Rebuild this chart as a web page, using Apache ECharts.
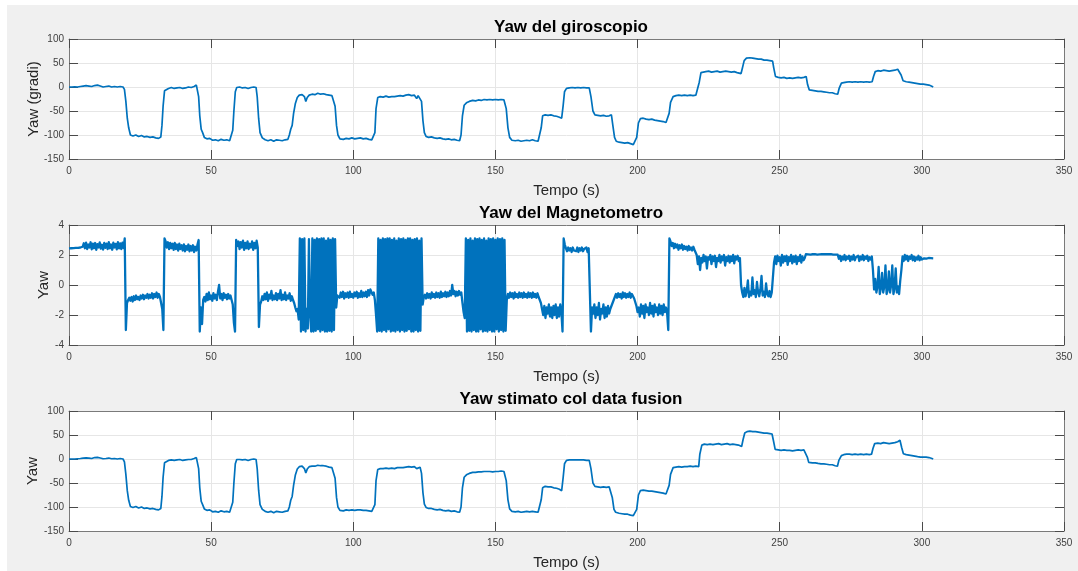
<!DOCTYPE html>
<html>
<head>
<meta charset="utf-8">
<script src="https://cdn.jsdelivr.net/npm/echarts@6/dist/echarts.min.js"></script>
<style>
  html, body { margin: 0; background: #fff; }
  #chart { width: 1078px; height: 571px; }
</style>
</head>
<body>
<div id="chart"></div>
<script>
// titoli e etichette dei tre grafici
const titoli = ["Yaw del giroscopio", "Yaw del Magnetometro", "Yaw stimato col data fusion"];
const etichetteY = ["Yaw (gradi)", "Yaw", "Yaw"];
const etichettaX = "Tempo (s)";
const assiX = { min: 0, max: 350, interval: 50 };
const assiYGradi = { min: -150, max: 100, interval: 50 };
const assiYMag = { min: -4, max: 4, interval: 2 };

// yaw del giroscopio [tempo s, gradi]
const giroscopio = [
  [0,0],[1,0],[2,0.5],[3,0],[4,1],[5,2],[6,3],[7,2],[8,1],[9,3],[10,4],[11,2],[12,0],[13,1],[14,2],[15,0],[16,1],[17,0],[18,1],[19,0],
  [19.5,-5],[20,-30],[20.5,-65],[21,-85],[21.6,-100],[22.5,-102],[23.5,-100],[24.5,-103],[25.5,-101],[26.5,-104],[27.5,-103],[28.5,-105],[29.5,-104],[30.5,-106],[31.5,-107],[31.9,-110],
  [32.3,-104],[32.7,-80],[33.1,-40],[33.6,-8],[34.2,-4],[35,-3],[36,-1],[37,-3],[38,-2],[39,-1],[40,-3],[41,-2],[42,0],[43,-1],[44,1],[44.8,4],[45.2,5],
  [45.6,-20],[46,-60],[46.5,-88],[47,-95],[47.6,-105],[48.5,-108],[49.5,-107],[50.5,-111],[51.5,-110],[52.5,-112],[53.5,-109],[54.5,-111],[55.5,-110],[56.5,-112],[57.2,-109],
  [57.6,-90],[58,-50],[58.5,-10],[59,-1],[60,0],[61,-2],[62,-1],[63,-3],[64,-1],[65,0],[65.8,-1],
  [66.2,-20],[66.7,-65],[67.2,-95],[68,-106],[69,-110],[70,-112],[71,-110],[72,-113],[73,-110],[74,-111],[75,-112],[76,-110],[77,-109],
  [77.5,-100],[78,-88],[78.5,-80],[79,-55],[79.6,-35],[80.3,-22],[81,-17],[82,-16],[82.8,-20],[83.3,-30],[83.8,-22],[84.5,-17],[85.5,-15],[86.5,-16],[87.5,-13],[88.5,-15],[89.5,-14],[90.5,-16],[91.5,-17],[92.5,-18],[93.2,-16],
  [93.6,-40],[94.1,-80],[94.6,-100],[95.3,-108],[96.5,-109],[97.5,-107],[98.5,-108],[99.5,-106],[100.5,-108],[101.5,-107],[102.5,-106],[103.5,-108],[104.5,-107],[105.5,-109],[106.5,-110],[107.2,-113],
  [107.6,-95],[108,-45],[108.6,-22],[109.5,-20],[110.5,-21],[111.5,-19],[112.5,-21],[113.5,-20],[114.5,-20],[115.5,-19],[116.5,-18],[117.5,-19],[118.5,-17],[119.5,-16],[120.5,-18],[121.5,-17],[122.3,-24],[122.8,-18],[123.5,-17],
  [124,-30],[124.5,-70],[125,-95],[125.6,-103],[126.5,-105],[127.5,-104],[128.5,-106],[129.5,-107],[130.5,-106],[131.5,-108],[132.5,-109],[133.5,-108],[134.5,-110],[135.5,-109],[136.5,-111],[137.4,-112],
  [137.9,-100],[138.4,-60],[139,-38],[139.8,-33],[140.8,-30],[142,-28],[143,-29],[144,-27],[145,-28],[146,-26],[147,-27],[148,-26],[149,-27],[150,-26],[151,-27],[152,-26],[153,-27],[153.4,-25],
  [153.8,-45],[154.4,-85],[155,-105],[155.8,-111],[157,-112],[158,-111],[159,-113],[160,-112],[161,-111],[162,-112],[163,-110],[164,-112],[165,-113],[165.7,-111],
  [166.1,-85],[166.6,-60],[167.5,-58],[168.5,-59],[169.5,-58],[170.5,-60],[171.5,-61],[172.5,-63],[173.3,-65],
  [173.8,-40],[174.3,-10],[175,-3],[176,-2],[177,-1],[178,-2],[179,-1],[180,-2],[181,-1],[182,-2],[183,-2],
  [183.6,-20],[184.3,-50],[185,-58],[186,-59],[187,-60],[188,-59],[189,-61],[190,-60],[190.8,-58],
  [191.3,-80],[191.9,-105],[192.5,-113],[193.5,-115],[194.5,-116],[195.5,-117],[196.5,-116],[197.5,-118],[198.5,-120],[199.2,-124],
  [199.7,-105],[200.3,-75],[201,-66],[202,-65],[203,-67],[204,-68],[205,-67],[206,-69],[207,-70],[208,-71],[209,-72],[210,-74],[210.6,-76],
  [211.1,-55],[211.6,-32],[212.5,-20],[213.5,-18],[214.5,-17],[215.5,-18],[216.5,-17],[217.5,-18],[218.5,-17],[219.5,-18],[220.5,-17],[221.2,-18],
  [221.7,10],[222.3,30],[223,33],[224,32],[225,33],[226,31],[227,32],[228,33],[229,31],[230,32],[231,33],[232,32],[233,31],[234,32],[235,30],[236.4,28],
  [236.9,40],[237.5,55],[238.3,60],[239.5,61],[240.5,60],[241.5,59],[242.5,58],[243.5,58],[244.5,56],[245.5,56],[246.5,55],[247.5,54],
  [247.9,40],[248.5,22],[249.5,20],[250.5,19],[251.5,20],[252.5,18],[253.5,19],[254.5,18],[255.5,19],[256.5,20],[257.5,19],[258.5,20],[259.3,22],
  [259.8,5],[260.4,-6],[261.5,-7],[262.5,-8],[263.5,-9],[264.5,-9],[265.5,-10],[266.5,-11],[267.5,-12],[268.5,-12],[269.5,-14],[270.4,-15],
  [270.9,-3],[271.7,8],[272.5,9],[273.5,10],[274.5,11],[275.5,10],[276.5,11],[277.5,10],[278.5,11],[279.5,10],[280.5,11],[281.5,10],[282.5,11],
  [283,22],[283.6,32],[284.5,34],[285.5,33],[286.5,35],[287.5,34],[288.5,33],[289.5,34],[290.5,35],[291.5,37],[292.2,40],
  [292.7,25],[293.4,13],[294.5,11],[295.5,10],[296.5,9],[297.5,8],[298.5,7],[299.5,6],[300.5,6],[301.5,5],[302.5,4],[303.3,2],[304,0]
];

// yaw del magnetometro, un campione ogni 0.4 s a partire da 0 s
const passoMag = 0.4;
const magnetometro = [
  2.44,2.44,2.45,2.45,2.46,2.46,2.47,2.47,2.48,2.49,2.5,2.5,2.55,
  2.78,2.45,2.82,2.4,2.7,2.5,2.85,2.38,2.75,2.45,
  2.8,2.35,2.72,2.5,2.84,2.42,2.68,2.36,2.8,2.48,
  2.76,2.4,2.86,2.45,2.7,2.35,2.82,2.5,2.74,2.38,
  2.85,2.44,2.78,2.4,2.82,2.46,
  3.1,-3.0,-1.2,-1.0,
  -0.85,-1.05,-0.8,-1.1,-0.75,-1.0,-0.7,-0.95,-0.8,-1.0,
  -0.7,-0.9,-0.65,-0.95,-0.7,-0.85,-0.6,-0.9,-0.65,-0.85,
  -0.55,-0.9,-0.6,-0.8,-0.5,-0.85,-0.6,-0.8,-0.9,
  -1.6,-3.0,3.1,
  2.9,2.5,2.85,2.4,2.8,2.45,2.75,2.35,2.8,2.4,
  2.7,2.3,2.75,2.4,2.65,2.3,2.7,2.25,2.6,2.35,
  2.7,2.25,2.6,2.3,2.65,2.2,2.55,2.3,2.7,
  3.0,-3.1,-1.5,-2.6,-1.0,
  -0.8,-1.1,-0.6,-1.0,-0.5,-0.95,-0.7,-1.05,-0.55,-0.9,
  -0.65,-1.0,-0.45,0.0,-0.9,-0.6,-1.0,-0.55,-0.85,-0.65,
  -0.95,-0.6,-0.9,-0.7,-1.0,-1.3,
  -2.5,-3.1,3.0,
  2.6,2.9,2.4,2.85,2.5,2.95,2.35,2.8,2.45,2.9,
  2.4,2.75,2.5,2.9,2.35,2.8,2.45,2.95,2.5,
  -2.8,-1.3,-1.1,
  -0.75,-1.0,-0.6,-0.95,-0.5,-1.05,-0.65,-0.9,-0.4,-1.0,
  -0.7,-0.95,-0.55,-1.0,-0.6,-0.9,-0.35,-1.0,-0.65,-0.95,
  -0.5,-1.0,-0.7,-0.9,-0.55,-1.05,-0.75,-1.0,
  -1.2,-1.5,-1.75,-1.6,-2.3,
  3.1,-3.1,3.05,-3.0,3.1,-3.1,
  -1.6,-2.9,3.05,-2.0,-3.1,
  3.1,-3.1,3.0,-3.05,3.1,-2.95,3.05,-3.1,3.1,-3.0,3.1,-3.1,2.95,-3.1,3.1,-3.05,3.0,-3.1,3.1,-3.0,3.05,
  -1.5,-0.7,
  -0.6,-0.85,-0.5,-0.8,-0.45,-0.9,-0.55,-0.8,-0.5,-0.85,
  -0.45,-0.8,-0.6,-0.85,-0.5,-0.75,-0.45,-0.85,-0.55,-0.8,
  -0.4,-0.8,-0.5,-0.75,-0.45,-0.8,-0.35,-0.7,-0.3,-0.2,-0.65,-0.5,
  -1.0,-2.0,
  -3.1,3.1,-3.05,3.0,-3.1,3.1,-3.0,3.05,-3.1,3.1,
  -2.95,3.1,-3.1,3.0,-3.05,3.1,-3.1,2.95,-3.0,3.1,
  -3.1,3.05,-3.0,3.1,-3.1,3.0,-3.05,3.1,-2.95,3.1,
  -3.1,3.0,-3.1,3.05,-3.0,3.1,-3.1,2.95,-3.05,3.1,
  -1.3,-0.8,
  -0.65,-0.9,-0.55,-0.85,-0.6,-0.9,-0.5,-0.8,-0.6,-0.85,
  -0.5,-0.8,-0.55,-0.85,-0.45,-0.8,-0.55,-0.75,-0.45,-0.8,
  -0.5,-0.75,-0.4,-0.7,0.0,-0.6,-0.4,-0.75,-0.45,-0.7,
  -0.4,-0.65,-0.5,
  -1.2,-1.8,-2.2,
  3.1,-3.1,3.0,-3.05,3.1,-3.1,2.95,-3.0,3.1,-3.1,
  3.05,-3.1,3.1,-2.95,3.0,-3.1,3.1,-3.05,2.95,-3.1,
  3.1,-3.0,3.05,-3.1,3.1,-3.1,3.0,-2.95,3.1,-3.1,
  3.05,-3.0,3.1,-3.1,3.0,-3.05,
  -1.0,
  -0.6,-0.85,-0.5,-0.8,-0.55,-0.9,-0.5,-0.8,-0.6,-0.85,
  -0.5,-0.8,-0.55,-0.85,-0.5,-0.8,-0.6,-0.85,-0.5,-0.8,
  -0.55,-0.85,-0.5,-0.8,-0.6,-0.85,-0.55,-0.8,-0.9,
  -1.2,
  -1.6,-2.0,-1.4,-2.2,-1.5,-1.9,-1.3,-2.1,-1.5,-2.2,
  -1.4,-2.0,-1.3,-2.2,-1.5,-2.1,-1.3,-1.8,
  -3.1,3.1,2.7,
  2.45,2.25,2.5,2.3,2.45,2.2,2.5,2.3,2.4,2.25,
  2.5,2.2,2.45,2.3,2.5,2.25,2.4,2.3,2.5,2.2,
  2.45,2.5,
  -3.1,-1.5,
  -1.9,-1.3,-2.2,-1.5,-2.0,-1.2,-2.3,-1.6,-1.9,-1.3,
  -2.2,-1.5,-2.1,-1.4,-1.9,-1.6,-1.4,-1.2,
  -1.0,-0.8,
  -0.6,-0.85,-0.55,-0.8,-0.6,-0.9,-0.5,-0.8,-0.55,-0.85,
  -0.6,-0.8,-0.5,-0.85,-0.6,-0.75,-0.9,
  -1.0,-1.4,-1.8,
  -1.5,-2.1,-1.3,-1.9,-1.4,-2.2,-1.3,-1.8,-1.5,-2.0,
  -1.2,-1.9,-1.4,-2.1,-1.3,-1.8,-1.5,-2.0,-1.3,-1.9,
  -1.4,-2.0,-1.3,-1.8,-1.5,-1.9,
  -3.0,3.1,2.9,
  2.6,2.8,2.45,2.75,2.5,2.7,2.35,2.65,2.45,2.7,
  2.35,2.6,2.4,2.55,2.3,2.6,2.35,2.5,2.3,2.55,
  2.35,2.45,
  2.0,
  1.4,1.9,1.0,1.8,1.5,2.0,1.6,1.9,1.1,1.85,
  1.7,2.0,1.4,1.9,1.6,1.95,1.2,1.8,1.6,2.0,
  1.5,1.9,1.65,2.0,1.3,1.85,1.6,1.95,1.5,1.9,
  1.6,2.0,1.45,1.9,1.7,1.95,1.6,1.8,
  0.0,
  -0.5,-0.8,-0.2,-0.75,-0.4,0.3,-0.8,-0.45,-0.7,0.5,
  -0.6,-0.35,-0.8,0.2,-0.5,-0.75,-0.3,0.6,-0.7,-0.45,
  -0.8,0.1,-0.6,-0.75,-0.4,-0.8,-0.5,
  0.5,1.5,
  1.9,1.4,1.95,1.6,1.85,1.3,2.0,1.5,1.9,1.6,
  1.95,1.35,1.85,1.6,2.0,1.45,1.9,1.55,1.95,1.4,
  1.85,1.6,2.0,1.5,1.9,1.65,1.8,
  2.05,2.07,2.04,2.06,2.03,2.07,2.05,2.04,2.06,2.05,
  2.03,2.06,2.04,2.07,2.05,2.03,2.06,2.04,2.05,2.02,
  2.05,2.03,2.06,2.04,2.02,2.05,2.03,2.04,2.02,
  1.75,1.95,1.6,1.9,1.7,2.0,1.65,1.9,1.75,1.95,
  1.6,1.9,1.7,2.0,1.65,1.85,1.75,1.95,1.6,1.9,
  1.7,2.0,1.65,1.9,1.75,1.95,1.6,1.85,1.7,1.9,
  1.0,
  -0.3,0.4,-0.5,-0.1,1.2,-0.6,-0.2,0.8,-0.5,-0.1,
  1.3,-0.6,-0.3,0.9,-0.5,0.0,1.3,-0.6,-0.2,1.1,
  -0.5,-0.1,-0.6,0.3,
  1.0,
  1.9,1.6,2.0,1.7,1.95,1.6,1.9,1.75,2.0,1.65,
  1.9,1.6,1.85,1.7,1.95,1.65,1.85,1.7,
  1.72,1.78,1.7,1.76,1.73,1.8,1.75,1.79,1.76,1.78
];

// yaw stimato col data fusion [tempo s, gradi]
const fusione = [
  [0,0],[1,0],[2,0],[3,0.5],[4,1],[5,2],[6,2.5],[7,2],[8,1],[9,3],[10,3.5],[11,2],[12,0.5],[13,1],[14,2],[15,0.5],[16,1],[17,0],[18,1],[19,0],
  [19.5,-6],[20,-32],[20.5,-66],[21,-86],[21.6,-99],[22.5,-101],[23.5,-99],[24.5,-102],[25.5,-100],[26.5,-103],[27.5,-102],[28.5,-104],[29.5,-103],[30.5,-105],[31.5,-106],[31.9,-108],
  [32.3,-103],[32.7,-78],[33.1,-38],[33.6,-8],[34.2,-4],[35,-3],[36,-2],[37,-3],[38,-2],[39,-1],[40,-3],[41,-2],[42,-1],[43,-1],[44,1],[44.8,3],[45.2,4],
  [45.6,-20],[46,-60],[46.5,-88],[47,-95],[47.6,-104],[48.5,-107],[49.5,-106],[50.5,-110],[51.5,-109],[52.5,-111],[53.5,-108],[54.5,-110],[55.5,-109],[56.5,-111],[57.2,-108],
  [57.6,-90],[58,-50],[58.5,-10],[59,-1],[60,-1],[61,-2],[62,-1],[63,-3],[64,-1],[65,0],[65.8,-1],
  [66.2,-20],[66.7,-65],[67.2,-95],[68,-105],[69,-109],[70,-111],[71,-109],[72,-112],[73,-109],[74,-110],[75,-111],[76,-109],[77,-108],
  [77.5,-100],[78,-86],[78.5,-78],[79,-55],[79.6,-34],[80.3,-21],[81,-16],[82,-15],[82.8,-20],[83.3,-29],[83.8,-21],[84.5,-16],[85.5,-15],[86.5,-15],[87.5,-13],[88.5,-14],[89.5,-14],[90.5,-15],[91.5,-17],[92.5,-18],[93.2,-17],
  [93.6,-40],[94.1,-80],[94.6,-100],[95.3,-107],[96.5,-108],[97.5,-106],[98.5,-107],[99.5,-106],[100.5,-107],[101.5,-106],[102.5,-106],[103.5,-107],[104.5,-107],[105.5,-108],[106.5,-109],[107.2,-111],
  [107.6,-95],[108,-45],[108.6,-22],[109.5,-20],[110.5,-20],[111.5,-19],[112.5,-20],[113.5,-19],[114.5,-20],[115.5,-18],[116.5,-18],[117.5,-18],[118.5,-17],[119.5,-16],[120.5,-17],[121.5,-16],[122.3,-20],[122.8,-17],[123.5,-17],
  [124,-30],[124.5,-70],[125,-94],[125.6,-101],[126.5,-103],[127.5,-103],[128.5,-105],[129.5,-106],[130.5,-105],[131.5,-107],[132.5,-108],[133.5,-107],[134.5,-109],[135.5,-108],[136.5,-110],[137.4,-111],
  [137.9,-100],[138.4,-60],[139,-38],[139.8,-33],[140.8,-30],[142,-28],[143,-28],[144,-27],[145,-27],[146,-26],[147,-26],[148,-26],[149,-27],[150,-26],[151,-26],[152,-25],[153,-26],[153.4,-24],
  [153.8,-45],[154.4,-85],[155,-104],[155.8,-109],[157,-110],[158,-109],[159,-111],[160,-110],[161,-109],[162,-110],[163,-109],[164,-110],[165,-111],[165.7,-110],
  [166.1,-85],[166.6,-60],[167.5,-57],[168.5,-58],[169.5,-58],[170.5,-60],[171.5,-61],[172.5,-63],[173.3,-66],
  [173.8,-40],[174.3,-10],[175,-3],[176,-2],[177,-2],[178,-2],[179,-2],[180,-2],[181,-2],[182,-3],[183,-3],
  [183.6,-20],[184.3,-50],[185,-57],[186,-58],[187,-59],[188,-58],[189,-59],[190,-58],[190.6,-57],
  [191.1,-80],[191.7,-105],[192.3,-111],[193.5,-113],[194.5,-114],[195.5,-115],[196.5,-115],[197.5,-117],[198.5,-118],[199.2,-121],
  [199.7,-105],[200.3,-75],[201,-66],[202,-65],[203,-66],[204,-67],[205,-67],[206,-68],[207,-69],[208,-70],[209,-71],[210,-73],[210.6,-75],
  [211.1,-55],[211.6,-32],[212.5,-18],[213.5,-17],[214.5,-16],[215.5,-17],[216.5,-16],[217.5,-16],[218.5,-15],[219.5,-16],[220.5,-15],[221.5,-16],
  [221.9,10],[222.6,29],[223.5,31],[224.5,30],[225.5,31],[226.5,30],[227.5,31],[228.5,32],[229.5,30],[230.5,31],[231.5,32],[232.5,30],[233.5,31],[234.5,30],[235.5,29],[236.6,26],
  [237.1,40],[237.7,54],[238.5,57],[239.5,58],[240.5,57],[241.5,57],[242.5,56],[243.5,55],[244.5,54],[245.5,54],[246.5,53],[247.3,52],
  [247.8,38],[248.4,20],[249.5,19],[250.5,18],[251.5,19],[252.5,18],[253.5,18],[254.5,17],[255.5,18],[256.5,19],[257.5,18],[258.5,19],[259.2,22],
  [259.7,4],[260.2,-7],[261.5,-8],[262.5,-8],[263.5,-9],[264.5,-10],[265.5,-10],[266.5,-11],[267.5,-12],[268.5,-12],[269.5,-14],[270.3,-15],
  [270.8,-3],[271.7,7],[272.5,9],[273.5,10],[274.5,10],[275.5,9],[276.5,10],[277.5,9],[278.5,10],[279.5,9],[280.5,10],[281.5,9],[282.3,10],
  [282.8,22],[283.4,32],[284.5,33],[285.5,32],[286.5,34],[287.5,33],[288.5,32],[289.5,33],[290.5,34],[291.5,36],[292.3,39],
  [292.9,24],[293.5,11],[294.5,9],[295.5,8],[296.5,7],[297.5,6],[298.5,5],[299.5,4],[300.5,4],[301.5,4],[302.5,3],[303.3,1.5],[304,0]
];

const chart = echarts.init(document.getElementById("chart"));

const blu = "#0072BD";
const font = "'Liberation Sans', Arial, sans-serif";
const altoGriglia = [39, 225, 411];
const nameGapY = [28, 18, 29];

function assiPerGrafico(g, rangeY) {
  const linea = { show: true, onZero: false, lineStyle: { color: "#7a7a7a", width: 1 } };
  const tacche = { show: true, inside: true, length: 9, lineStyle: { color: "#4a4a4a" } };
  const xBasso = {
    type: "value", gridIndex: g, position: "bottom",
    min: assiX.min, max: assiX.max, interval: assiX.interval,
    name: etichettaX, nameLocation: "middle", nameGap: 24, nameMoveOverlap: false,
    nameTextStyle: { fontFamily: font, fontSize: 15, color: "#262626" },
    axisLine: linea, axisTick: tacche,
    axisLabel: { fontFamily: font, fontSize: 10, color: "#404040", margin: 7 },
    splitLine: { show: true, lineStyle: { color: "#e6e6e6", width: 1 } }
  };
  const xAlto = {
    type: "value", gridIndex: g, position: "top",
    min: assiX.min, max: assiX.max, interval: assiX.interval,
    axisLine: linea, axisTick: tacche,
    axisLabel: { show: false },
    splitLine: { show: false }
  };
  const ySx = {
    type: "value", gridIndex: g, position: "left",
    min: rangeY.min, max: rangeY.max, interval: rangeY.interval,
    name: etichetteY[g], nameLocation: "middle", nameGap: nameGapY[g], nameMoveOverlap: false,
    nameTextStyle: { fontFamily: font, fontSize: 15, color: "#262626" },
    axisLine: linea, axisTick: tacche,
    axisLabel: { fontFamily: font, fontSize: 10, color: "#404040", margin: 5 },
    splitLine: { show: true, lineStyle: { color: "#e6e6e6", width: 1 } }
  };
  const yDx = {
    type: "value", gridIndex: g, position: "right",
    min: rangeY.min, max: rangeY.max, interval: rangeY.interval,
    axisLine: linea, axisTick: tacche,
    axisLabel: { show: false },
    splitLine: { show: false }
  };
  return { x: [xBasso, xAlto], y: [ySx, yDx] };
}

const a0 = assiPerGrafico(0, assiYGradi);
const a1 = assiPerGrafico(1, assiYMag);
const a2 = assiPerGrafico(2, assiYGradi);

const datiMag = magnetometro.map((v, i) => [+(i * passoMag).toFixed(1), v]);

chart.setOption({
  animation: false,
  backgroundColor: "#ffffff",
  graphic: [{
    type: "rect", z: -10, silent: true,
    shape: { x: 7, y: 5, width: 1071, height: 566 },
    style: { fill: "#f0f0f0" }
  }],
  title: titoli.map((t, i) => ({
    text: t, left: 566, top: altoGriglia[i] - 25, textAlign: "center",
    textStyle: { fontFamily: font, fontSize: 17, fontWeight: "bold", color: "#000" }
  })),
  grid: altoGriglia.map(top => ({
    left: 69, right: 14, top: top, height: 120,
    show: true, backgroundColor: "#ffffff", borderWidth: 0
  })),
  xAxis: [...a0.x, ...a1.x, ...a2.x],
  yAxis: [...a0.y, ...a1.y, ...a2.y],
  series: [
    {
      type: "line", xAxisIndex: 0, yAxisIndex: 0, data: giroscopio,
      showSymbol: false, symbol: "none", lineStyle: { color: blu, width: 1.7 }
    },
    {
      type: "line", xAxisIndex: 2, yAxisIndex: 2, data: datiMag,
      showSymbol: false, symbol: "none",
      lineStyle: { color: blu, width: 2.3, join: "round" }
    },
    {
      type: "line", xAxisIndex: 4, yAxisIndex: 4, data: fusione,
      showSymbol: false, symbol: "none", lineStyle: { color: blu, width: 1.7 }
    }
  ]
});
</script>
</body>
</html>
